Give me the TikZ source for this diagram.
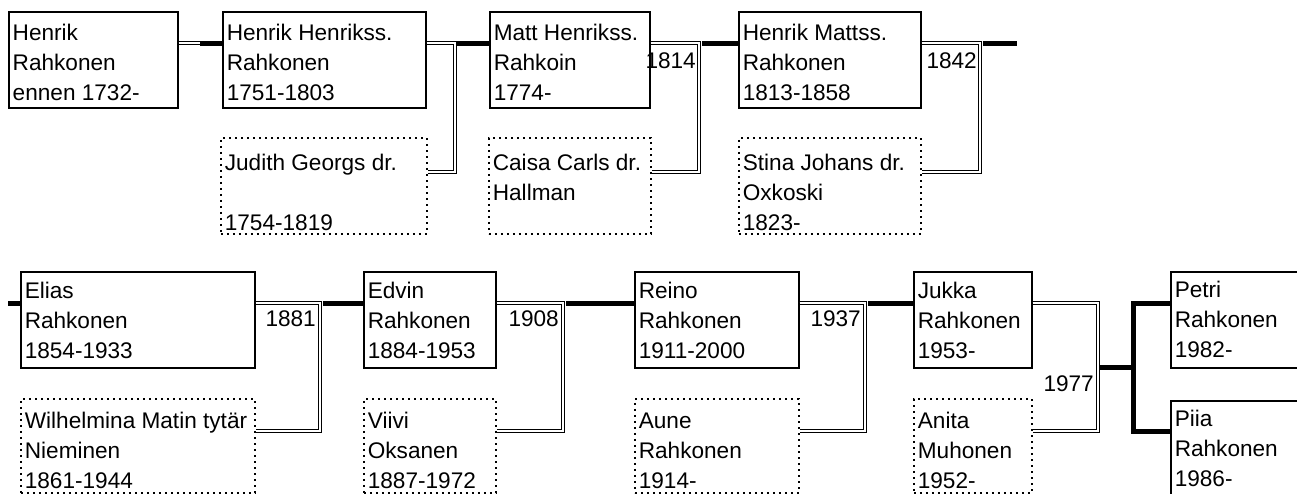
\documentclass[tikz,border=0pt]{standalone}
\usepackage{fontspec}
\setmainfont{Liberation Sans}
\newcommand\boxtxt[4]{\parbox[c][#2pt][t]{#1pt}{\raggedright\leftskip=4pt\fontsize{22.6}{30}\selectfont\rule{0pt}{#3pt}#4}}
\tikzset{
  person/.style={draw, line width=1.5pt, inner sep=0pt, anchor=north west},
  spouse/.style={draw, line width=1.7pt, dash pattern=on 1.7pt off 4.3pt, inner sep=0pt, anchor=north west},
  marr/.style={draw, line width=1.4pt, double, double distance=1.8pt},
  desc/.style={draw, line width=5pt},
  yearlbl/.style={inner sep=0pt, anchor=base east, font=\fontsize{22.6}{26}\selectfont}
}
\begin{document}
\begin{tikzpicture}[x=1pt,y=-1pt]
\path[use as bounding box, fill=white] (0,0) rectangle (1297,493);
\clip (0,0) rectangle (1297,493);
% top row
\node[person] (b1) at (8,11) {\boxtxt{169}{96}{29}{Henrik\\Rahkonen\\ennen 1732-}};
\node[person] (b2) at (222,11) {\boxtxt{203}{96}{29}{Henrik Henrikss.\\Rahkonen\\1751-1803}};
\node[spouse] (s2) at (220,137) {\boxtxt{206}{96}{33}{Judith Georgs dr.\\\mbox{}\\1754-1819}};
\node[person] (b3) at (489,11) {\boxtxt{160}{96}{29}{Matt Henrikss.\\Rahkoin\\1774-}};
\node[spouse] (s3) at (488,137) {\boxtxt{162}{96}{33}{Caisa Carls dr.\\Hallman}};
\node[person] (b4) at (738,11) {\boxtxt{182}{96}{29}{Henrik Mattss.\\Rahkonen\\1813-1858}};
\node[spouse] (s4) at (738,137) {\boxtxt{182}{96}{33}{Stina Johans dr.\\Oxkoski\\1823-}};
% bottom row
\node[person] (e1) at (20,271) {\boxtxt{234}{96}{27}{Elias\\Rahkonen\\1854-1933}};
\node[spouse] (t1) at (20,398) {\boxtxt{234}{94}{30}{Wilhelmina Matin tytär\\Nieminen\\1861-1944}};
\node[person] (e2) at (363,271) {\boxtxt{132}{96}{27}{Edvin\\Rahkonen\\1884-1953}};
\node[spouse] (t2) at (363,398) {\boxtxt{132}{94}{30}{Viivi\\Oksanen\\1887-1972}};
\node[person] (e3) at (634,271) {\boxtxt{164}{96}{27}{Reino\\Rahkonen\\1911-2000}};
\node[spouse] (t3) at (634,398) {\boxtxt{164}{94}{30}{Aune\\Rahkonen\\1914-}};
\node[person] (e4) at (913,271) {\boxtxt{118}{96}{27}{Jukka\\Rahkonen\\1953-}};
\node[spouse] (t4) at (913,398) {\boxtxt{118}{94}{30}{Anita\\Muhonen\\1952-}};
\node[person] (p1) at (1170,271) {\boxtxt{200}{96}{26}{Petri\\Rahkonen\\1982-}};
\node[person] (p2) at (1170,400) {\boxtxt{200}{96}{26}{Piia\\Rahkonen\\1986-}};
% coordinates
\coordinate (j1) at (200,43);
\coordinate (v2) at (455,43);
\coordinate (v3) at (699,43);
\coordinate (v4) at (980,43);
\coordinate (end4) at (1017,43);
\coordinate (start1) at (8,303);
\coordinate (w1) at (320,303);
\coordinate (w2) at (563,303);
\coordinate (w3) at (865,303);
\coordinate (w4) at (1098,303);
\coordinate (fork) at (1133,367);
% top row connectors
\draw[marr] (b1.east |- j1) -- (j1);
\draw[desc] (j1) -- (b2.west |- j1);
\draw[marr] (b2.east |- v2) -| ([yshift=-129pt]v2) -- (s2.east |- 0,172);
\draw[desc] ([xshift=2pt]v2) -- (b3.west |- v2);
\draw[marr] (b3.east |- v3) -| ([yshift=-129pt]v3) -- (s3.east |- 0,172);
\node[yearlbl] (y1814) at (696,68) {1814};
\draw[desc] ([xshift=3pt]v3) -- (b4.west |- v3);
\draw[marr] (b4.east |- v4) -| ([yshift=-129pt]v4) -- (s4.east |- 0,172);
\node[yearlbl] (y1842) at (977,68) {1842};
\draw[desc] ([xshift=3pt]v4) -- (end4);
% bottom row connectors
\draw[desc] (start1) -- (e1.west |- start1);
\draw[marr] (e1.east |- w1) -| ([yshift=-128pt]w1) -- (t1.east |- 0,431);
\node[yearlbl] (y1881) at (316,326) {1881};
\draw[desc] ([xshift=3pt]w1) -- (e2.west |- w1);
\draw[marr] (e2.east |- w2) -| ([yshift=-128pt]w2) -- (t2.east |- 0,431);
\node[yearlbl] (y1908) at (559,326) {1908};
\draw[desc] ([xshift=3pt]w2) -- (e3.west |- w2);
\draw[marr] (e3.east |- w3) -| ([yshift=-128pt]w3) -- (t3.east |- 0,431);
\node[yearlbl] (y1937) at (861,326) {1937};
\draw[desc] ([xshift=3pt]w3) -- (e4.west |- w3);
\draw[marr] (e4.east |- w4) -| ([yshift=-128pt]w4) -- (t4.east |- 0,431);
\node[yearlbl] (y1977) at (1094,391) {1977};
\draw[desc] (1100,367) -- (fork);
\draw[desc] (p1.west |- 0,303) -| (1133,431) -- (p2.west |- 0,431);
\end{tikzpicture}
\end{document}
